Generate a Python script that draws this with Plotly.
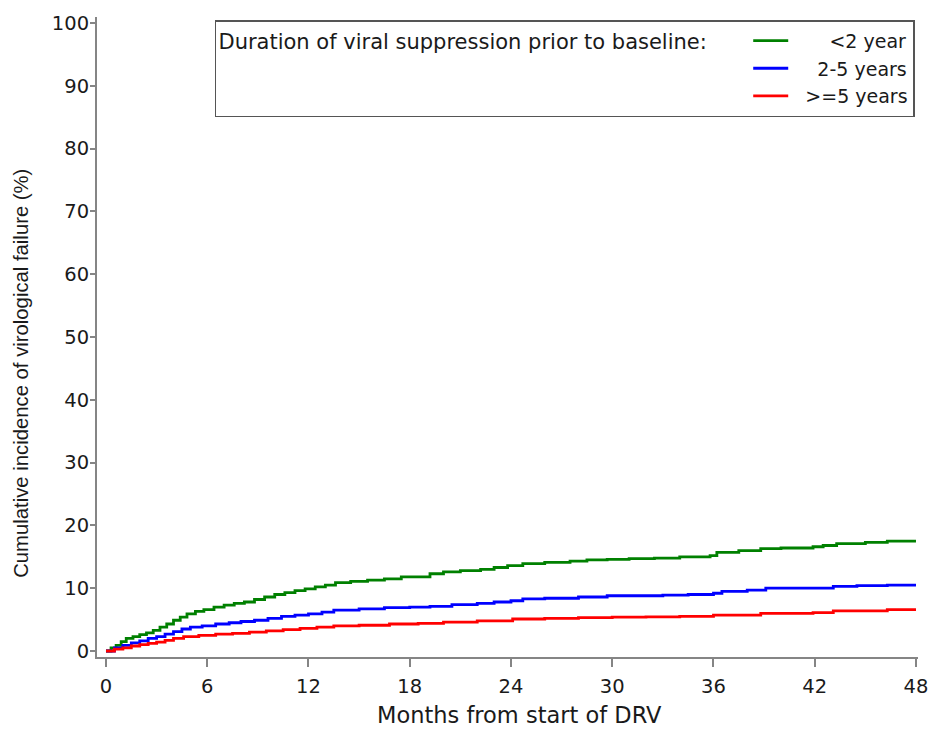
import plotly.graph_objects as go

# ---- data ----
months_lt2 = [0, 0.3, 0.6, 0.9, 1.2, 1.6, 2.0, 2.4, 2.8, 3.2, 3.6, 4.0, 4.4, 4.8, 5.3, 5.8,
              6.4, 7.0, 7.6, 8.2, 8.8, 9.4, 10.0, 10.6, 11.2, 11.8, 12.4, 13.0, 13.6, 14.5,
              15.5, 16.5, 17.5, 19.2, 20.0, 21.0, 22.2, 23.0, 23.8, 24.7, 26.0, 27.5, 28.5,
              29.7, 31.0, 32.5, 34.0, 35.8, 36.2, 37.5, 38.8, 40.0, 41.9, 42.5, 43.3, 45.0,
              46.3, 48.0]
cif_lt2 = [0, 0.5, 0.9, 1.5, 2.0, 2.3, 2.6, 2.9, 3.3, 3.8, 4.3, 4.9, 5.4, 5.9, 6.3, 6.6,
           7.0, 7.3, 7.6, 7.8, 8.2, 8.6, 9.0, 9.3, 9.6, 9.9, 10.2, 10.5, 10.9, 11.1,
           11.3, 11.5, 11.8, 12.3, 12.6, 12.8, 13.0, 13.3, 13.6, 13.9, 14.1, 14.3, 14.5,
           14.6, 14.7, 14.8, 15.0, 15.2, 15.7, 16.0, 16.3, 16.4, 16.6, 16.8, 17.1, 17.3,
           17.5, 17.5]

months_2to5 = [0, 0.5, 1.0, 1.5, 2.0, 2.5, 3.0, 3.5, 4.0, 4.5, 5.0, 5.7, 6.5, 7.3, 8.0, 8.8,
               9.6, 10.4, 11.2, 12.0, 12.8, 13.5, 15.0, 16.5, 18.0, 19.2, 20.5, 22.0, 23.0,
               24.0, 24.7, 26.0, 28.0, 29.7, 31.0, 33.0, 34.5, 36.0, 36.5, 38.0, 39.1, 41.9,
               43.1, 44.5, 46.3, 48.0]
cif_2to5 = [0, 0.5, 0.9, 1.3, 1.6, 2.0, 2.3, 2.7, 3.1, 3.5, 3.8, 4.0, 4.3, 4.5, 4.7, 4.9,
            5.2, 5.5, 5.7, 5.9, 6.2, 6.5, 6.7, 6.9, 7.0, 7.1, 7.4, 7.6, 7.8,
            8.0, 8.3, 8.4, 8.6, 8.8, 8.8, 8.9, 9.0, 9.2, 9.5, 9.7, 10.0, 10.0,
            10.3, 10.4, 10.5, 10.5]

months_ge5 = [0, 0.5, 1.0, 1.5, 2.0, 2.5, 3.0, 3.5, 4.0, 4.6, 5.5, 6.5, 7.5, 8.5, 9.5, 10.5,
              11.5, 12.5, 13.5, 15.0, 16.8, 18.5, 20.0, 22.0, 24.1, 26.0, 28.0, 30.0, 32.0,
              34.0, 36.0, 38.8, 41.9, 43.1, 46.3, 48.0]
cif_ge5 = [0, 0.3, 0.5, 0.8, 1.0, 1.2, 1.4, 1.7, 2.0, 2.3, 2.5, 2.7, 2.8, 3.0, 3.2, 3.4,
           3.6, 3.8, 4.0, 4.1, 4.3, 4.4, 4.6, 4.8, 5.1, 5.2, 5.3, 5.4, 5.45,
           5.5, 5.7, 6.0, 6.1, 6.4, 6.6, 6.6]

NB = "\u00a0"
group_names = [NB * 6 + "<2 year", NB * 4 + "2-5 years", NB * 2 + ">=5 years"]
group_colors = ["#008000", "#0000ff", "#ff0000"]
x_ticks = [0, 6, 12, 18, 24, 30, 36, 42, 48]
y_ticks = [0, 10, 20, 30, 40, 50, 60, 70, 80, 90, 100]
legend_title = "Duration of viral suppression prior to baseline:"
x_title = "Months from start of DRV"
y_title = "Cumulative incidence of virological failure (%)"

DEJA = "DejaVu Sans, sans-serif"
ARIAL = "Liberation Sans, Arial, sans-serif"

fig = go.Figure()
for xs, ys, name, col in zip([months_lt2, months_2to5, months_ge5],
                             [cif_lt2, cif_2to5, cif_ge5], group_names, group_colors):
    fig.add_trace(go.Scatter(x=xs, y=ys, mode="lines", name=name,
                             line=dict(color=col, width=2.8, shape="hv")))

axis_common = dict(showline=True, linecolor="#858585", linewidth=2,
                   ticks="outside", tickwidth=1.5, tickcolor="#858585",
                   showgrid=False, zeroline=False, ticklabeloverflow="allow",
                   automargin=False,
                   tickfont=dict(family=DEJA, size=19.5, color="#1a1a1a"))

fig.update_layout(
    width=928, height=731,
    margin=dict(l=97, r=10, t=17, b=74, autoexpand=False),
    paper_bgcolor="white", plot_bgcolor="white",
    font=dict(family=DEJA, color="#1a1a1a"),
    xaxis=dict(range=[-0.533, 48.12], tickvals=x_ticks, ticklen=8, ticklabelstandoff=3,
               **axis_common),
    yaxis=dict(range=[-0.955, 100.96], tickvals=y_ticks, ticklen=5, ticklabelstandoff=-3,
               **axis_common),
    legend=dict(x=0.9963, xanchor="right", y=0.995, yanchor="top",
                bgcolor="white", bordercolor="#555555", borderwidth=1.5,
                font=dict(family=DEJA, size=19, color="#1a1a1a"),
                title=dict(text=legend_title + NB * 5,
                           side="left", font=dict(family=DEJA, size=21)),
                tracegroupgap=0, itemwidth=35),
    annotations=[
        dict(text=x_title, xref="paper", yref="paper", x=0.5146, y=-0.09,
             xanchor="center", yanchor="middle", showarrow=False,
             font=dict(family=DEJA, size=22.5, color="#1a1a1a")),
        dict(text=y_title, xref="paper", yref="paper", x=-0.0926, y=0.444,
             xanchor="center", yanchor="middle", showarrow=False, textangle=-90,
             font=dict(family=ARIAL, size=20.3, color="#1a1a1a")),
    ],
)

fig.write_html("out.html", config={"displayModeBar": False},
               post_script="document.body.style.margin='0';document.body.style.overflow='hidden';")
